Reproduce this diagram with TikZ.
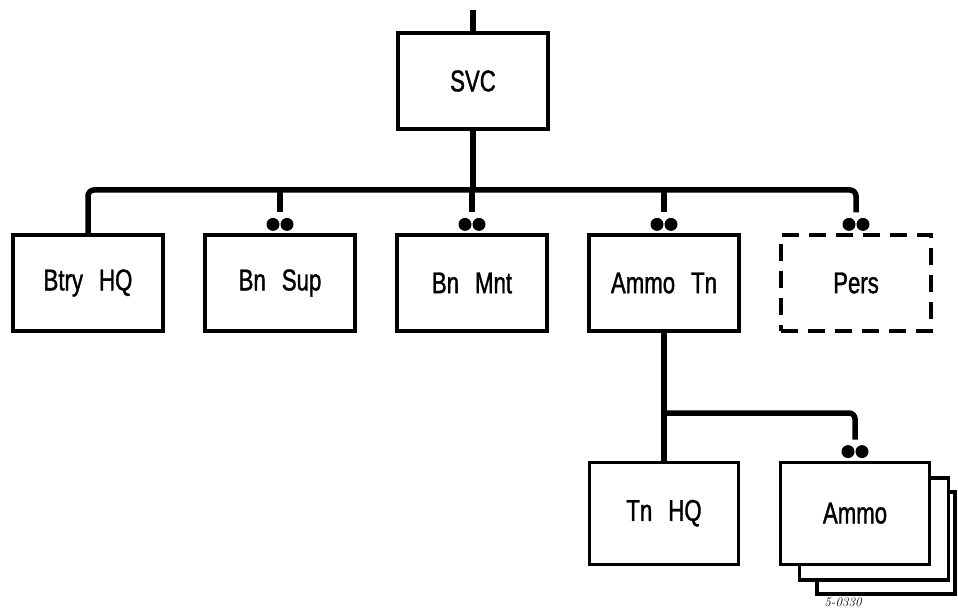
\documentclass[tikz,border=0pt]{standalone}
\usepackage{fontspec}
\newfontfamily\orgfont[FakeStretch=0.74,FakeBold=1.2,WordSpace=2.6]{Liberation Sans}
\usetikzlibrary{positioning}
\tikzset{
  unit/.style={rectangle, draw, line width=3.2pt, minimum width=150pt, minimum height=96pt,
    align=center, font=\orgfont\fontsize{30}{32}\selectfont, fill=white},
  planned/.style={unit, dash pattern=on 17pt off 10pt},
  stackbox/.style={rectangle, draw, line width=3.2pt, minimum width=149pt, minimum height=102pt, fill=white},
  link/.style={line width=5.5pt, rounded corners=6pt},
  pair/.style={fill=black},
  tag/.style={font=\fontsize{13}{13}\selectfont\itshape, inner sep=0pt},
}
\begin{document}
\begin{tikzpicture}[x=1pt, y=-1pt, node distance=38.8pt and 38.8pt]
  \useasboundingbox (0,0) rectangle (958,609);

  \node[unit] (svc) at (473,81) {SVC};

  \node[unit] (btryhq) at (88,283) {Btry HQ};
  \node[unit, right=of btryhq] (bnsup) {Bn Sup};
  \node[unit, right=of bnsup] (bnmnt) {Bn Mnt};
  \node[unit, right=of bnmnt] (ammotn) {Ammo Tn};
  \node[planned, right=of ammotn] (pers) {Pers};

  \node[stackbox, below=128pt of ammotn] (tnhq) {};
  \node[font=\orgfont\fontsize{30}{32}\selectfont] at (tnhq) {Tn HQ};

  % stacked ammo sections
  \node[stackbox, minimum width=138pt] (ammoback2) at (886,543) {};
  \node[stackbox] (ammoback1) at (874,529) {};
  \node[stackbox, right=38.8pt of tnhq] (ammo) {};
  \node[font=\orgfont\fontsize{30}{32}\selectfont] at (ammo) {Ammo};

  \coordinate (top) at (473,10);
  \coordinate (bus) at (473,190);
  \coordinate (tnbus) at (ammotn.south |- 0,413);

  \draw[link] (top) -- (svc.north);
  \draw[link] (svc.south) -- (bus);
  \draw[link] (btryhq.north) |- (bus) -| ([yshift=21pt]pers.north);
  \foreach \n in {bnsup, bnmnt, ammotn}
    \draw[link] (bus -| \n.north) -- ([yshift=21pt]\n.north);

  \draw[link] (ammotn.south) -- (tnhq.north);
  \draw[link] (tnbus) -| ([yshift=21pt]ammo.north);

  \foreach \n in {bnsup, bnmnt, ammotn, pers, ammo}
    \fill[pair] ([shift={(-7pt,9pt)}]\n.north) circle (6.5pt)
                ([shift={(7pt,9pt)}]\n.north) circle (6.5pt);

  \node[tag] (code) at (843,602) {5-0330};
\end{tikzpicture}
\end{document}
